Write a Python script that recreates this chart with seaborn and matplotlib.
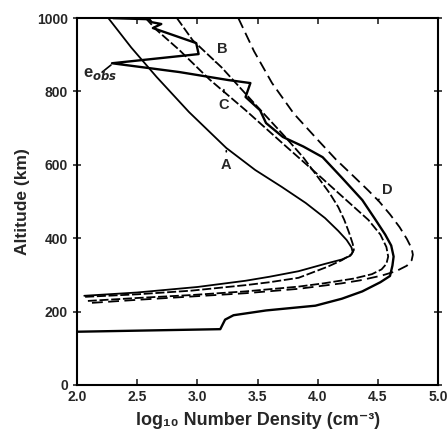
import numpy as np
import pandas as pd
import matplotlib
matplotlib.use('Agg')
import matplotlib.pyplot as plt
import seaborn as sns

# curve A (solid)
a_x = [2.26, 2.45, 2.66, 2.93, 3.24, 3.48, 3.70, 3.90, 4.06, 4.17, 4.24, 4.28, 4.29, 4.27, 4.20,
       4.06, 3.84, 3.60, 3.40, 3.00, 2.50, 2.06]
a_alt = [1000, 920, 840, 744, 646, 586, 540, 496, 455, 420, 395, 375, 362, 352, 342,
         330, 310, 295, 284, 267, 252, 243]
# curve B (short dashes)
b_x = [2.83, 2.96, 3.20, 3.48, 3.73, 3.88, 4.00, 4.10, 4.17, 4.22, 4.26, 4.29, 4.30, 4.28, 4.20,
       4.08, 3.84, 3.60, 3.40, 2.95, 2.50, 2.06]
b_alt = [1000, 940, 866, 765, 676, 620, 567, 522, 485, 450, 415, 385, 368, 356, 340,
         322, 292, 280, 272, 257, 247, 240]
# curve C (short dashes)
c_x = [2.57, 2.66, 2.85, 3.10, 3.40, 3.72, 4.03, 4.25, 4.42, 4.52, 4.57, 4.585, 4.57, 4.53, 4.45,
       4.30, 4.05, 3.84, 3.40, 2.95, 2.50, 2.09]
c_alt = [1000, 968, 913, 833, 749, 655, 565, 500, 450, 410, 376, 350, 330, 315, 302,
         290, 277, 268, 255, 245, 237, 229]
# curve D (long dashes)
d_x = [3.34, 3.47, 3.62, 3.80, 4.00, 4.15, 4.30, 4.42, 4.51, 4.60, 4.68, 4.74, 4.78, 4.79, 4.78,
       4.74, 4.65, 4.53, 4.35, 4.20, 3.84, 3.40, 2.95, 2.50, 2.09]
d_alt = [1000, 910, 823, 740, 668, 615, 568, 530, 500, 465, 430, 398, 372, 355, 340,
         325, 310, 298, 285, 277, 262, 250, 241, 232, 223]
# observed electron density
e_x = [2.30, 2.60, 2.62, 2.70, 2.63, 2.99, 3.01, 2.29, 2.85, 3.26, 3.44, 3.40, 3.52, 3.57, 3.71,
       3.88, 4.04, 4.20, 4.37, 4.47, 4.56, 4.61, 4.63, 4.62, 4.60, 4.52, 4.37, 4.20, 3.98, 3.57,
       3.30, 3.23, 3.19, 2.00]
e_alt = [1000, 997, 989, 984, 973, 932, 902, 877, 853, 831, 823, 785, 749, 714, 676,
         650, 621, 565, 504, 455, 410, 380, 350, 325, 297, 280, 255, 235, 216, 203,
         190, 178, 152, 145]

x_ticks = [2.0, 2.5, 3.0, 3.5, 4.0, 4.5, 5.0]
y_ticks = [0, 200, 400, 600, 800, 1000]

sns.set_style('white')
plt.rcParams['font.family'] = ['Liberation Sans', 'DejaVu Sans']
plt.rcParams['font.weight'] = 'bold'

fig = plt.figure(figsize=(4.48, 4.32), dpi=100)
ax = fig.add_axes([0.172, 0.109, 0.806, 0.849])

curves = [(a_x, a_alt, '-', 1.3),
          (b_x, b_alt, (0, (5, 1.5)), 1.3),
          (c_x, c_alt, (0, (5, 1.5)), 1.3),
          (d_x, d_alt, (0, (6, 3)), 1.3),
          (e_x, e_alt, '-', 1.7)]
for xs, ys, ls, lw in curves:
    sns.lineplot(x=xs, y=ys, sort=False, estimator=None, color='black',
                 linestyle=ls, lw=lw, ax=ax)

ax.set_xlim(2.0, 5.0)
ax.set_ylim(0, 1000)
ax.set_xticks(x_ticks)
ax.set_xticklabels(['%.1f' % t for t in x_ticks], fontsize=10, fontweight='bold')
ax.set_yticks(y_ticks)
ax.set_yticklabels([str(t) for t in y_ticks], fontsize=10, fontweight='bold')
ax.tick_params(axis='x', direction='in', top=True, bottom=True, length=4, width=1.2)
ax.tick_params(axis='y', direction='inout', left=True, right=True, length=6, width=1.2)
for side in ax.spines.values():
    side.set_linewidth(1.5)
    side.set_color('black')

ax.set_ylabel('Altitude (km)', fontsize=12.5, fontweight='bold', labelpad=5)
ax.set_xlabel('log₁₀ Number Density (cm⁻³)', fontsize=13, fontweight='bold', labelpad=6)

lab = dict(fontsize=10.5, fontweight='bold', ha='center', va='center')
arr = dict(arrowstyle='-', lw=1.2, color='black')
ax.annotate('A', xy=(3.24, 646), xytext=(3.24, 600), arrowprops=arr, **lab)
ax.annotate('B', xy=(3.15, 880), xytext=(3.21, 915), arrowprops=arr, **lab)
ax.annotate('C', xy=(3.22, 805), xytext=(3.22, 762), arrowprops=arr, **lab)
ax.annotate('D', xy=(4.50, 503), xytext=(4.58, 532), arrowprops=arr, **lab)
ax.annotate('e$_{obs}$', xy=(2.30, 877), xytext=(2.19, 848), arrowprops=arr,
            fontsize=12, fontweight='bold', ha='center', va='center')

fig.savefig('out.png', dpi=100)
